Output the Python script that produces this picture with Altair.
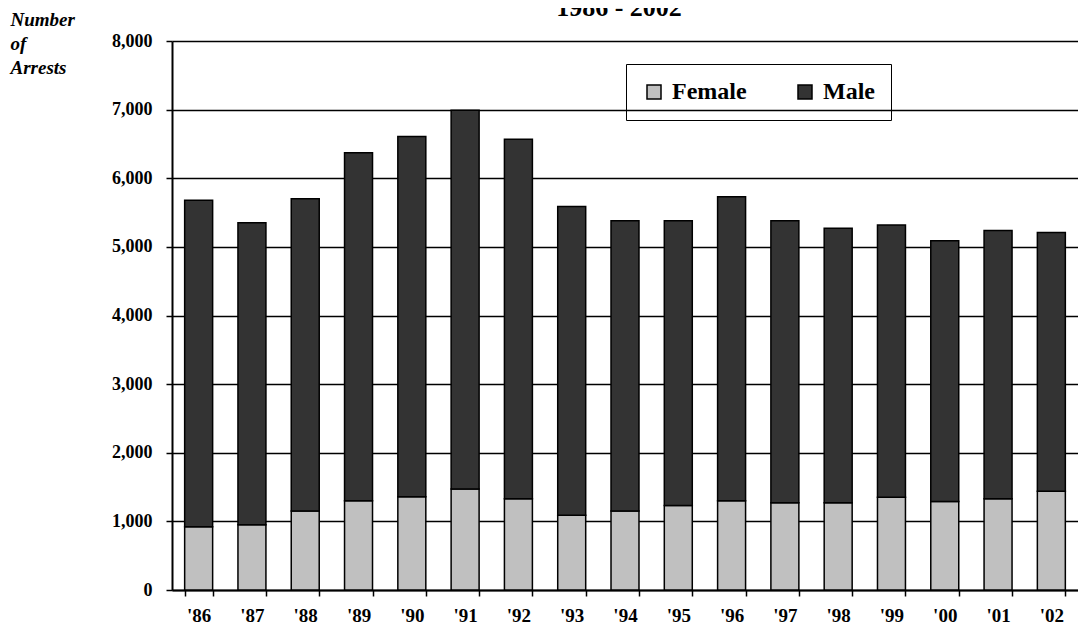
import altair as alt
import pandas as pd

years = ["'86", "'87", "'88", "'89", "'90", "'91", "'92", "'93", "'94",
         "'95", "'96", "'97", "'98", "'99", "'00", "'01", "'02"]
female = [920, 950, 1150, 1300, 1360, 1470, 1330, 1090, 1150,
          1230, 1300, 1270, 1270, 1350, 1290, 1330, 1440]
male = [4760, 4400, 4550, 5070, 5250, 5520, 5240, 4500, 4230,
        4150, 4430, 4110, 4000, 3970, 3800, 3910, 3770]
series = ["Female", "Male"]
colors = ["#c0c0c0", "#333333"]
y_ticks = [0, 1000, 2000, 3000, 4000, 5000, 6000, 7000, 8000]
title_text = "1986 - 2002"

rows = []
for i, y in enumerate(years):
    rows.append({"year": y, "sex": "Female", "value": female[i], "ord": 0})
    rows.append({"year": y, "sex": "Male", "value": male[i], "ord": 1})
df = pd.DataFrame(rows)

SERIF = "Liberation Serif"

bars = alt.Chart(df).mark_bar(stroke="black", strokeWidth=1.5).encode(
    x=alt.X("year:N", sort=years,
            scale=alt.Scale(paddingInner=0.475, paddingOuter=0.2375),
            axis=alt.Axis(title=None, labelAngle=0, tickBand="extent",
                          tickSize=6, tickColor="black", tickWidth=1.5,
                          labelFont=SERIF, labelFontSize=19, labelFontWeight="bold",
                          labelColor="black", labelPadding=10,
                          domainColor="black", domainWidth=2, grid=False)),
    y=alt.Y("value:Q", stack=True,
            scale=alt.Scale(domain=[0, 8000], nice=False),
            axis=alt.Axis(values=y_ticks, format=",d", tickSize=6,
                          tickColor="black", tickWidth=1.5,
                          labelFont=SERIF, labelFontSize=18, labelFontWeight="bold",
                          labelColor="black", labelPadding=14,
                          domainColor="black", domainWidth=2,
                          grid=True, gridColor="black", gridWidth=1.5,
                          title=["Number", "of", "Arrests"], titleAngle=0,
                          titleAlign="left", titleBaseline="alphabetic",
                          titleX=-162, titleY=-16, titleLineHeight=24,
                          titleFont=SERIF, titleFontSize=19,
                          titleFontStyle="italic", titleFontWeight="bold",
                          titleColor="black")),
    color=alt.Color("sex:N", title=None,
                    scale=alt.Scale(domain=series, range=colors),
                    legend=alt.Legend(orient="none", legendX=454, legendY=23,
                                      direction="horizontal", strokeColor="black",
                                      padding=16, symbolType="square",
                                      symbolSize=196, symbolStrokeColor="black",
                                      symbolStrokeWidth=1.5, labelFont=SERIF,
                                      labelFontSize=24, labelFontWeight="bold",
                                      labelColor="black", columnPadding=46,
                                      labelOffset=6)),
    order=alt.Order("ord:Q"),
)

title = alt.Chart(pd.DataFrame({"t": [title_text]})).mark_text(
    font=SERIF, fontSize=26, fontWeight="bold", color="black",
    align="center", baseline="alphabetic"
).encode(text="t:N", x=alt.value(447), y=alt.value(-25))

chart = alt.layer(bars, title).properties(
    width=906, height=549,
    autosize=alt.AutoSizeParams(type="none"),
    padding={"left": 164, "top": 33, "right": 0, "bottom": 40},
).configure_view(strokeWidth=0)

chart.save("out.html", embed_options={"renderer": "svg", "actions": False})
